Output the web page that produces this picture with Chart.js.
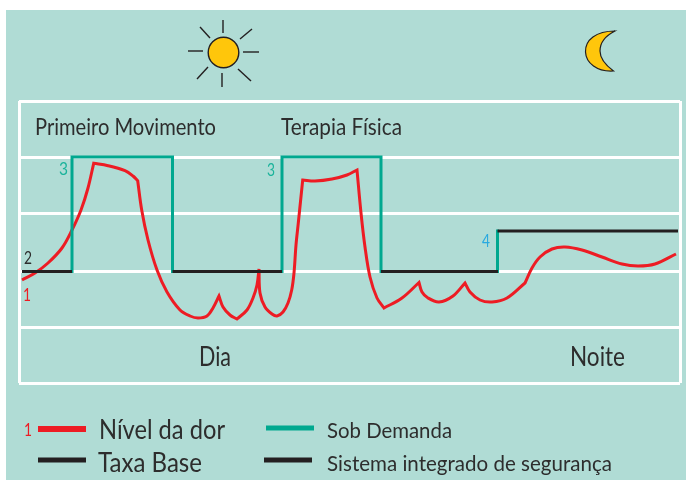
<!DOCTYPE html>
<html>
<head>
<meta charset="utf-8">
<style>
  html, body { margin: 0; padding: 0; background: #fff; }
  canvas { display: block; }
</style>
<script src="https://cdn.jsdelivr.net/npm/chart.js@4"></script>
</head>
<body>
<canvas id="myChart" width="686" height="480"></canvas>
<script>
// Values. Repeated pain points are the sharp corners of the curve
const painX = [3, 16, 29, 43, 53, 62, 69, 74.7, 74.7, 89, 106, 114, 118.7, 118.7, 122.7, 129, 138, 148, 161, 171, 179, 188, 194, 200, 200, 204, 211, 218, 218, 228, 234, 238, 240, 240, 241, 246, 253, 258, 264, 269, 272.7, 275, 277, 279.3, 283.7, 283.7, 296, 313, 328, 338, 338, 342, 346, 351, 358, 365, 365, 383, 400, 400, 403, 409, 420, 434, 446, 446, 451, 461, 473, 488, 506, 506, 513, 521, 533, 546, 563, 583, 603, 619, 636, 657];
const painY = [103, 110, 120, 135, 153, 173, 195, 219.7, 219.7, 217.3, 212.3, 207, 202.3, 202.3, 173, 143, 113, 91, 73, 67, 65, 67, 75, 87, 87, 76, 68, 64, 64, 73, 85, 98, 114, 114, 90, 76, 69, 67, 71, 80, 93, 110, 138, 160, 203, 203, 202, 204, 208, 213, 213, 170, 136, 106, 85, 75, 75, 85, 100.5, 100.5, 91, 85, 81, 87, 100, 100, 91, 83, 81, 85, 100, 100, 115, 126, 134, 136, 133, 126, 119, 117, 119, 129];
const baseX = [3, 53, null, 153.5, 263, null, 362, 479];
const baseY = [111.5, 111.5, null, 111.5, 111.5, null, 111.5, 111.5];
const demandX = [53, 53, 153.5, 153.5, null, 263, 263, 362, 362, null, 478.5, 478.5];
const demandY = [111.5, 226, 226, 111.5, null, 111.5, 226, 226, 111.5, null, 111.5, 152];
const safetyX = [478.5, 659];
const safetyY = [152, 152];
const gridLevels = [0, 55.5, 111.5, 169.5, 226, 282];
const gridEdges = [0, 661];
const seriesNames = ['Nível da dor', 'Taxa Base', 'Sob Demanda', 'Sistema integrado de segurança'];

const RED = '#ed1c24', TEAL = '#00a88f', INK = '#231f20';

function toPoints(xs, ys){
  return xs.map((x, i) => ({ x: x, y: ys[i] }));
}

function fitText(c, text, x, right, baseline, font, color){
  c.font = font;
  c.fillStyle = color;
  c.textAlign = 'left';
  c.textBaseline = 'alphabetic';
  c.fillText(text, x, baseline, right - x);
}

function segment(c, x1, y1, x2, y2){
  c.beginPath();
  c.moveTo(x1, y1);
  c.lineTo(x2, y2);
  c.stroke();
}

function drawSun(c){
  c.strokeStyle = INK;
  c.lineWidth = 1.4;
  const rays = [[223, 20, 223, 33], [243, 52, 259, 52], [188, 51, 203, 51], [222, 73, 222, 87],
    [240, 39, 252, 29], [200, 27, 210, 38], [197, 79, 208, 67], [238, 69, 251, 81]];
  rays.forEach(r => segment(c, r[0], r[1], r[2], r[3]));
  c.beginPath();
  c.arc(223.5, 52.5, 15.3, 0, Math.PI * 2);
  c.fillStyle = '#ffc60b';
  c.fill();
  c.stroke();
}

function drawMoon(c){
  c.beginPath();
  c.moveTo(615, 31);
  c.bezierCurveTo(596, 31, 585, 40, 585.5, 52);
  c.bezierCurveTo(586, 63, 597, 72, 613.5, 71);
  c.bezierCurveTo(604, 64, 600, 58, 600, 51);
  c.bezierCurveTo(600, 43, 605, 36, 615, 31);
  c.closePath();
  c.fillStyle = '#ffc60b';
  c.fill();
  c.strokeStyle = INK;
  c.lineWidth = 1.2;
  c.stroke();
}

// Panel, sun, moon, captions and the hand placed legend
const artwork = {
  id: 'artwork',
  beforeDraw(chart){
    const c = chart.ctx;
    c.save();
    c.fillStyle = '#fff';
    c.fillRect(0, 0, 686, 480);
    c.fillStyle = '#b0dcd5';
    c.fillRect(6, 10, 680, 470);
    c.restore();
  },
  afterDraw(chart){
    const c = chart.ctx;
    c.save();
    drawSun(c);
    drawMoon(c);

    const big = '23px Lato', mid = '27px Lato', small = '22px Lato', num = '18px Lato';
    const dark = '#2d2d2d';
    fitText(c, 'Primeiro Movimento', 35, 216, 135, big, dark);
    fitText(c, 'Terapia Física', 281, 402, 135, big, dark);
    fitText(c, 'Dia', 199, 231, 366, mid, dark);
    fitText(c, 'Noite', 570, 625, 366, mid, dark);

    fitText(c, '3', 59, 68, 175, num, '#1ab39b');
    fitText(c, '3', 267, 275, 176, num, '#1ab39b');
    fitText(c, '2', 24, 32, 264, num, dark);
    fitText(c, '1', 23, 31, 301, num, RED);
    fitText(c, '4', 482, 490, 247, num, '#29a9e0');
    fitText(c, '1', 24, 32, 436, num, RED);

    c.lineWidth = 6;
    c.strokeStyle = RED;
    segment(c, 38, 429, 86, 429);
    c.lineWidth = 5;
    c.strokeStyle = INK;
    segment(c, 38, 460, 86, 460);
    segment(c, 264, 460, 312, 460);
    c.strokeStyle = TEAL;
    segment(c, 266, 428, 314, 428);

    fitText(c, seriesNames[0], 99, 225, 439, mid, dark);
    fitText(c, seriesNames[1], 98, 202, 472, mid, dark);
    fitText(c, seriesNames[2], 327, 452, 438, small, dark);
    fitText(c, seriesNames[3], 327, 612, 471, small, dark);
    c.restore();
  }
};

new Chart(document.getElementById('myChart'), {
  type: 'scatter',
  data: {
    datasets: [
      { label: seriesNames[1], data: toPoints(baseX, baseY), showLine: true, borderColor: INK, borderWidth: 3, pointRadius: 0, borderCapStyle: 'butt' },
      { label: seriesNames[3], data: toPoints(safetyX, safetyY), showLine: true, borderColor: INK, borderWidth: 3, pointRadius: 0, borderCapStyle: 'butt' },
      { label: seriesNames[2], data: toPoints(demandX, demandY), showLine: true, borderColor: TEAL, borderWidth: 3, pointRadius: 0, borderJoinStyle: 'miter', borderCapStyle: 'square' },
      { label: seriesNames[0], data: toPoints(painX, painY), showLine: true, borderColor: RED, borderWidth: 3, pointRadius: 0, tension: 0.35, borderJoinStyle: 'miter' }
    ]
  },
  options: {
    responsive: false,
    animation: false,
    layout: { padding: { left: 19, right: 6, top: 101, bottom: 97 } },
    plugins: { legend: { display: false }, tooltip: { enabled: false } },
    scales: {
      x: {
        type: 'linear',
        min: gridEdges[0],
        max: gridEdges[1],
        afterBuildTicks: axis => { axis.ticks = gridEdges.map(v => ({ value: v })); },
        ticks: { display: false },
        border: { display: false },
        grid: { color: '#fff', lineWidth: 3, drawTicks: false }
      },
      y: {
        type: 'linear',
        min: gridLevels[0],
        max: gridLevels[gridLevels.length - 1],
        afterBuildTicks: axis => { axis.ticks = gridLevels.map(v => ({ value: v })); },
        ticks: { display: false },
        border: { display: false },
        grid: { color: '#fff', lineWidth: 3, drawTicks: false }
      }
    }
  },
  plugins: [artwork]
});
</script>
</body>
</html>
